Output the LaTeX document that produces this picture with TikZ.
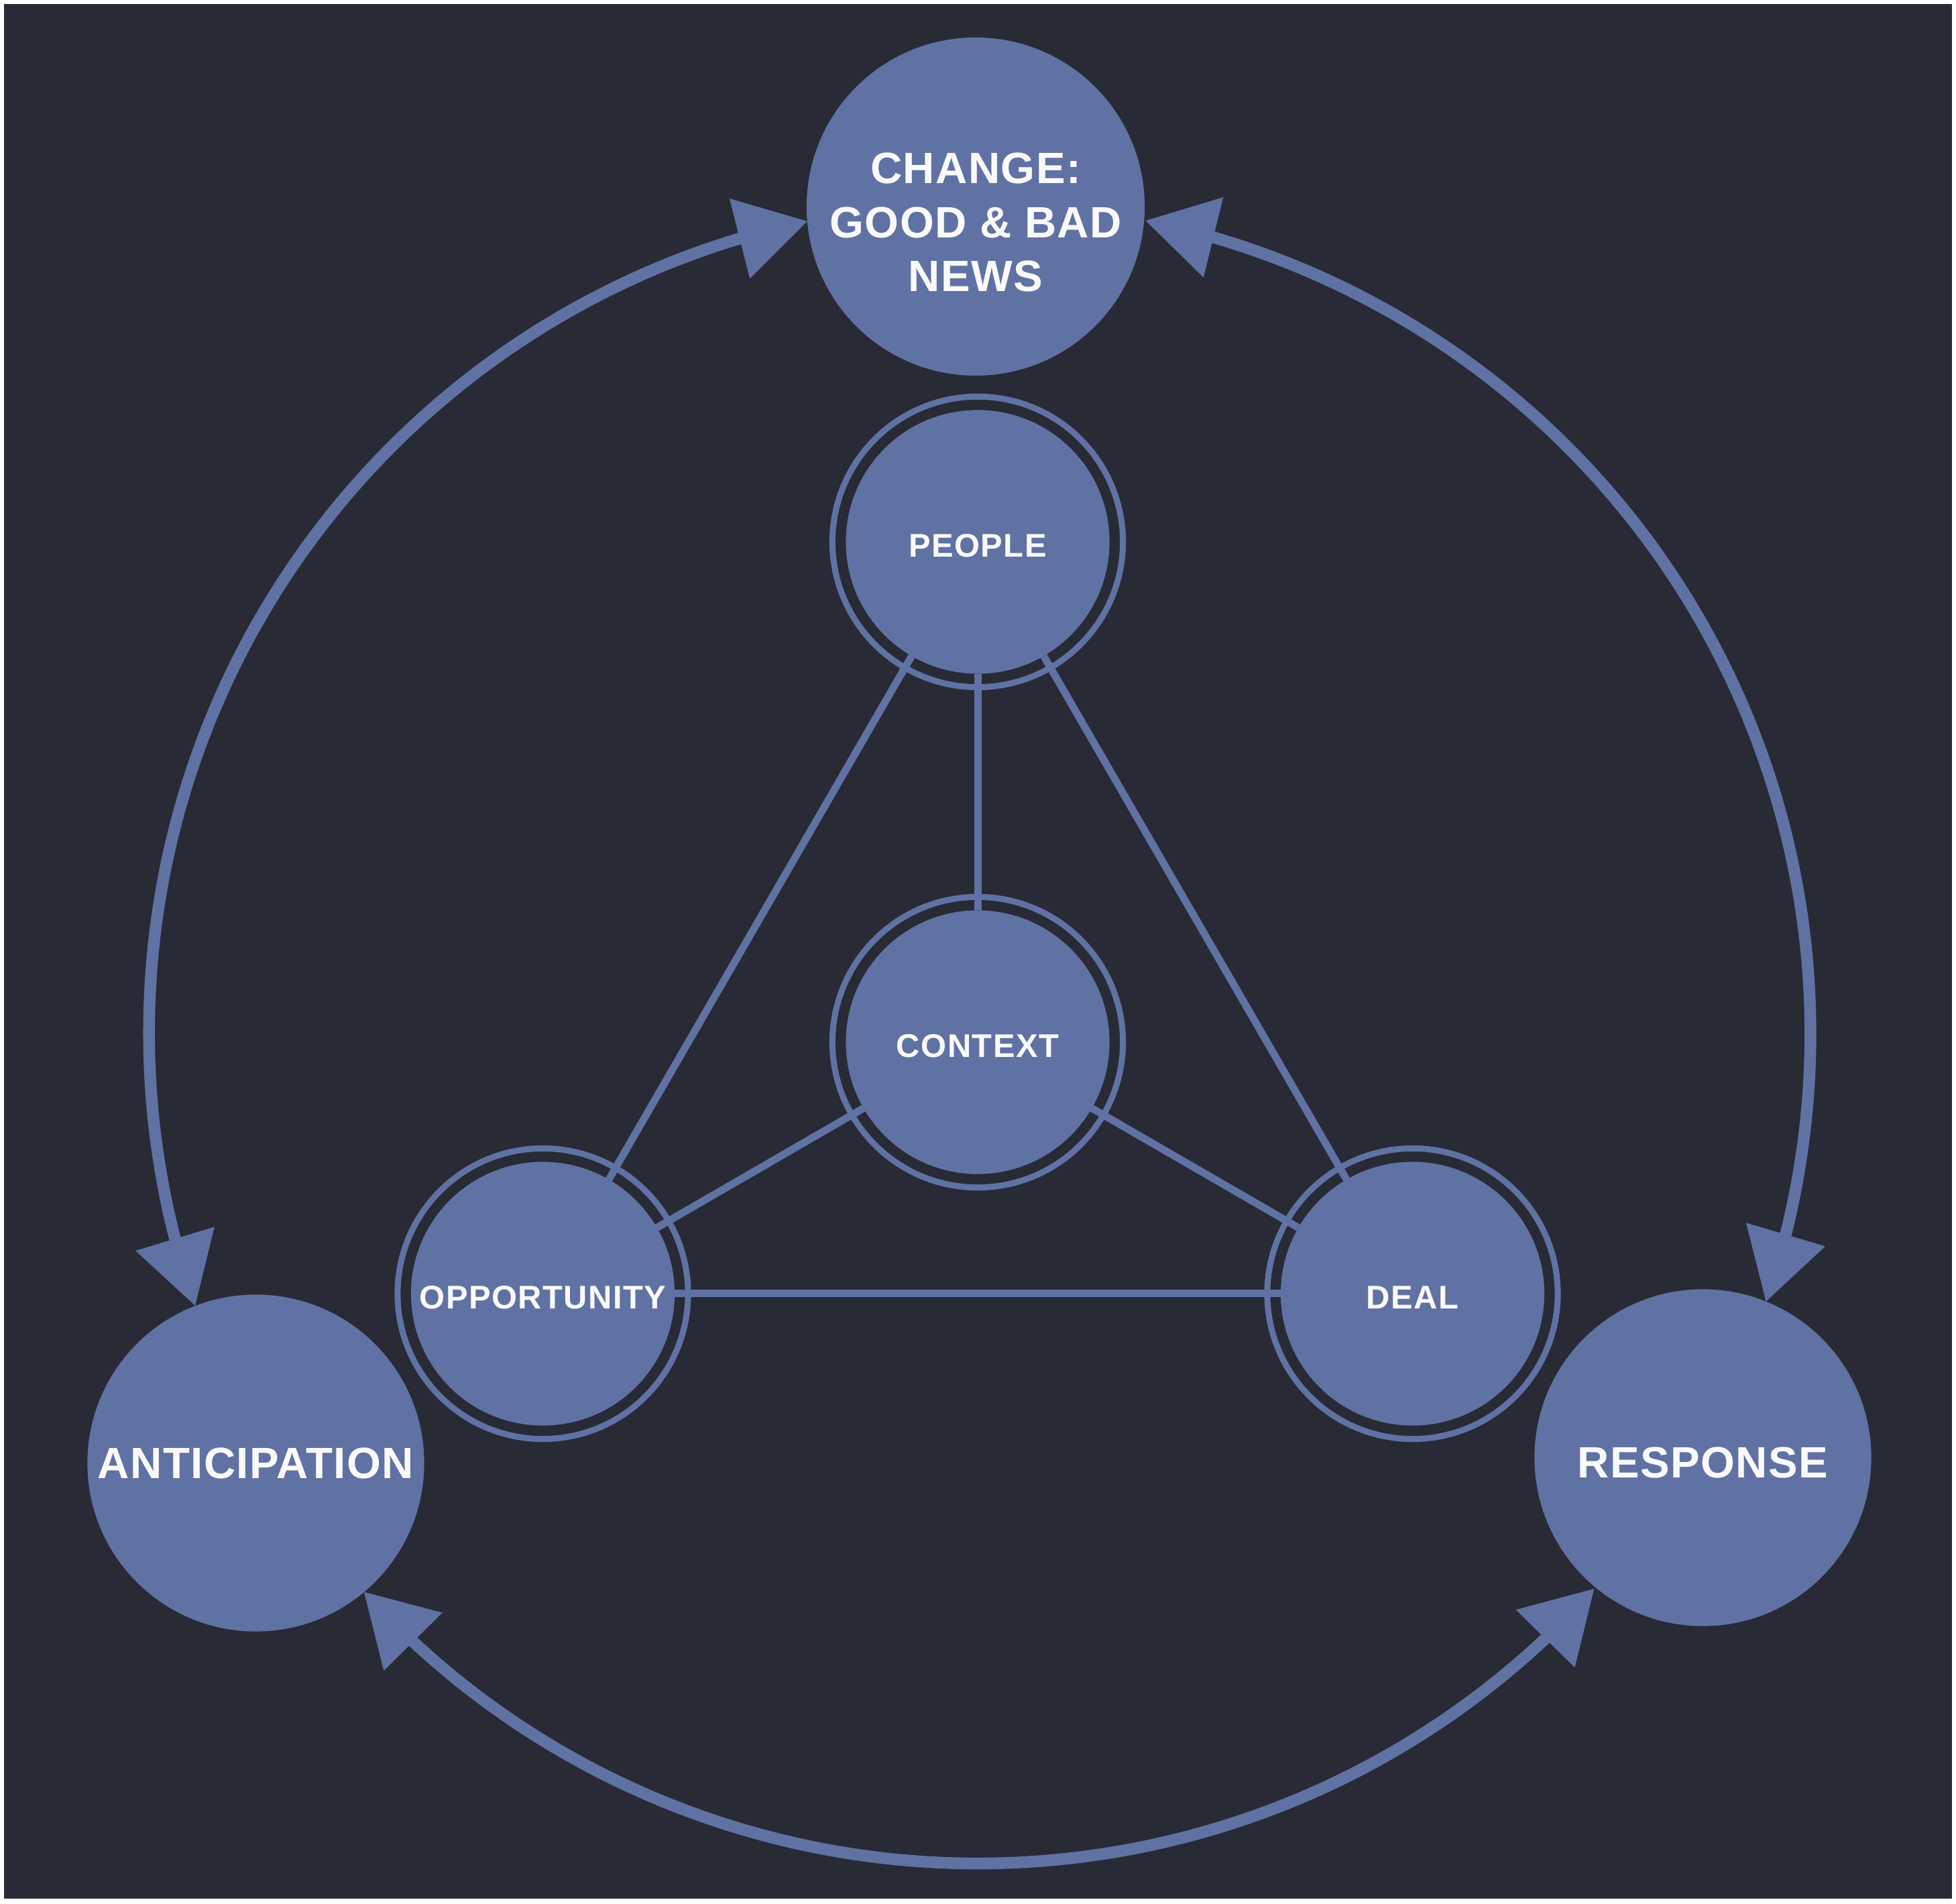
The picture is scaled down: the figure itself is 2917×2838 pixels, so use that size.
\documentclass[tikz,border=0pt]{standalone}
\usepackage{fontspec}
\setmainfont{Liberation Sans}
\usetikzlibrary{arrows.meta,bending}
\definecolor{bgdark}{HTML}{282A36}
\definecolor{nodeblue}{HTML}{6072A3}
\definecolor{txtwhite}{HTML}{FAFAFA}
\newcommand{\capstrut}[1]{\rule{0pt}{#1}}
\begin{document}
\begin{tikzpicture}[x=0.01cm,y=0.01cm,
  bignode/.style={circle, fill=nodeblue, minimum size=5.02cm, inner sep=0pt, outer sep=0pt,
    text=txtwhite, font=\bfseries\fontsize{18.6pt}{22.88pt}\selectfont\addfontfeature{LetterSpace=2.2}, align=center},
  ringnode/.style={circle, draw=nodeblue, line width=0.09cm, fill=bgdark, minimum size=4.33cm,
    inner sep=0pt, outer sep=0pt, text=txtwhite, font=\bfseries\fontsize{13.9pt}{16pt}\selectfont\addfontfeature{LetterSpace=3},
    path picture={\fill[nodeblue] (path picture bounding box.center) circle[radius=1.965cm];}},
  link/.style={draw=nodeblue, line width=0.11cm, shorten <=-0.2cm, shorten >=-0.2cm},
  cycarrow/.style={draw=nodeblue, line width=0.175cm,
    {Triangle[length=1.04cm,width=1.23cm,line width=0pt]}-{Triangle[length=1.04cm,width=1.23cm,line width=0pt]}}
]
\useasboundingbox (0,0) rectangle (2917,2838);
\fill[white] (0,0) rectangle (2917,2838);
\fill[bgdark] (6,7) rectangle (2911,2832);

% outer nodes
\node[bignode] (change) at (1455,2530) {\capstrut{0.93cm}CHANGE:\\GOOD \& BAD\\NEWS};
\node[bignode] (antic) at (381.5,656.5) {ANTICIPATION};
\node[bignode] (resp) at (2539.5,664.5) {\capstrut{0.6cm}RESPONSE};

% inner nodes
\node[ringnode] (people) at (1458,2030) {\capstrut{0.45cm}PEOPLE};
\node[ringnode] (context) at (1458,1284) {\capstrut{0.45cm}CONTEXT};
\node[ringnode] (opp) at (809.5,909) {\capstrut{0.45cm}OPPORTUNITY};
\node[ringnode] (deal) at (2106.5,909) {\capstrut{0.45cm}DEAL};

% cycle arrows
\draw[cycarrow] (change.185.17) arc[start angle=101.9, end angle=199.2, radius=12.36cm];
\draw[cycarrow] (antic.310.8) arc[start angle=222.28, end angle=318.03, radius=12.36cm];
\draw[cycarrow] (resp.68.9) arc[start angle=341.15, end angle=438.56, radius=12.36cm];

% links
\draw[link] (people) -- (context);
\draw[link] (people) -- (opp);
\draw[link] (people) -- (deal);
\draw[link] (context) -- (opp);
\draw[link] (context) -- (deal);
\draw[link] (opp) -- (deal);
\end{tikzpicture}
\end{document}
